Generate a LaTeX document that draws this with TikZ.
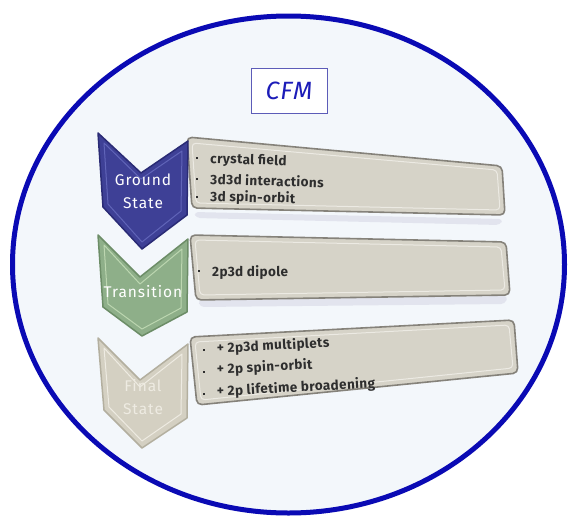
\documentclass[tikz,border=0pt]{standalone}
\usepackage{fontspec}
\setmainfont{Fira Sans}
\definecolor{ringblue}{HTML}{0A0AB4}
\definecolor{innerbg}{HTML}{F3F7FB}
\definecolor{boxface}{HTML}{D6D3C8}
\definecolor{boxedge}{HTML}{85827A}
\definecolor{boxlight}{HTML}{ECEAE3}
\definecolor{shadowc}{HTML}{E2E4EE}
\definecolor{txt}{HTML}{2E2E2E}
\definecolor{blueface}{HTML}{3E4096}
\definecolor{blueedge}{HTML}{2A2B75}
\definecolor{bluelight}{HTML}{6064B8}
\definecolor{greenface}{HTML}{8EAF89}
\definecolor{greenedge}{HTML}{6C8D67}
\definecolor{greenlight}{HTML}{BCD6B0}
\definecolor{beigeface}{HTML}{D4D0C2}
\definecolor{beigeedge}{HTML}{B3AF9F}
\definecolor{beigelight}{HTML}{EEEBE2}
\definecolor{cfmblue}{HTML}{1C1CB8}
\definecolor{cfmedge}{HTML}{5C5CB8}
\begin{document}
\begin{tikzpicture}[x=1pt,y=-1pt,
  boxshape/.style={fill=boxface, draw=boxedge, line width=1.6pt, rounded corners=5pt, line join=round},
  boxinner/.style={draw=boxlight, line width=1pt, rounded corners=4pt},
  boxshadow/.style={fill=shadowc, rounded corners=4pt},
  itemtext/.style={anchor=base west, inner sep=0pt, text=txt, font=\fontsize{13.5}{15}\selectfont\bfseries\addfontfeatures{LetterSpace=3}},
  bul/.style={fill=txt, minimum size=2.8pt, inner sep=0pt},
  chevtext/.style={text=white, inner sep=0pt, font=\fontsize{15.5}{17}\selectfont\addfontfeatures{LetterSpace=6}},
]
\useasboundingbox (0,0) rectangle (568,517);
\fill[white] (0,0) rectangle (568,517);
% outer ellipse
\draw[ringblue, fill=innerbg, line width=5pt] (288.5,264.5) ellipse [x radius=276, y radius=248.5];

% CFM title
\node (cfm) [draw=cfmedge, line width=0.9pt, fill=white, minimum width=76pt, minimum height=45pt, inner sep=0pt,
  text=cfmblue, font=\fontsize{25}{28}\selectfont\itshape\addfontfeatures{LetterSpace=4}] at (289,91) {CFM};

% ---------- boxes ----------
% box 1
\fill[boxshadow] (194,212) -- (503,219) -- (500,225) -- (196,218) -- cycle;
\draw[boxshape] (187,137) -- (502,166) -- (505,215) -- (192,208) -- cycle;
\draw[boxinner] (192,143) -- (497,170) -- (500,210) -- (196,203) -- cycle;
% box 2
\fill[boxshadow] (198,300) -- (508,296) -- (505,304) -- (200,307) -- cycle;
\draw[boxshape] (190,235) -- (506,242) -- (510,295) -- (196,300) -- cycle;
\draw[boxinner] (195,240) -- (501,247) -- (505,290) -- (200,295) -- cycle;
% box 3
\draw[boxshape] (190,337) -- (514,320) -- (518,373) -- (197,405) -- cycle;
\draw[boxinner] (195,342) -- (509,325) -- (513,368) -- (201,400) -- cycle;

% ---------- chevrons ----------
% ground state
\draw[fill=blueface, draw=blueedge, line width=1.5pt, line join=round] (98,133) -- (141,173) -- (188,141) -- (187,215) -- (142,249) -- (103,207) -- cycle;
\draw[bluelight, line width=1pt, line join=round] (104,143) -- (141,179) -- (182,151) -- (181,211) -- (142,242) -- (108,204) -- cycle;
% transition
\draw[fill=greenface, draw=greenedge, line width=1.5pt, line join=round] (98,235) -- (140,277) -- (188,239) -- (187,312) -- (142,336) -- (103,307) -- cycle;
\draw[greenlight, line width=1pt, line join=round] (104,245) -- (140,284) -- (182,249) -- (181,308) -- (142,329) -- (108,304) -- cycle;
% final state
\draw[fill=beigeface, draw=beigeedge, line width=1.5pt, line join=round] (98,338) -- (140,380) -- (188,344) -- (187,418) -- (142,448) -- (104,410) -- cycle;
\draw[beigelight, line width=1pt, line join=round] (104,348) -- (140,387) -- (182,354) -- (181,414) -- (142,441) -- (109,407) -- cycle;

% chevron labels
\node (gs1) [chevtext] at (143,180) {Ground};
\node (gs2) [chevtext] at (143,203) {State};
\node (tr) [chevtext] at (143,292) {Transition};
\node (fs1) [chevtext, text=beigelight] at (143,386) {Final};
\node (fs2) [chevtext, text=beigelight] at (143,409) {State};

% box 1 items
\node (b1a) [bul] at (197,158) {};
\node (b1b) [bul] at (197,179) {};
\node (b1c) [bul] at (197,197) {};
\node (t1a) [itemtext, rotate=-2] at (210,163) {crystal field};
\node (t1b) [itemtext, rotate=-1.8] at (210,184) {3d3d interactions};
\node (t1c) [itemtext, rotate=-1.5] at (210,201) {3d spin-orbit};
% box 2 items
\node (b2a) [bul] at (199,271) {};
\node (t2a) [itemtext] at (212,276) {2p3d dipole};
% box 3 items
\node (b3a) [bul] at (204,350) {};
\node (b3b) [bul] at (204,372) {};
\node (b3c) [bul] at (204,394) {};
\node (t3a) [itemtext, rotate=3] at (217,353) {+ 2p3d multiplets};
\node (t3b) [itemtext, rotate=3] at (217,374) {+ 2p spin-orbit};
\node (t3c) [itemtext, rotate=3] at (217,396) {+ 2p lifetime broadening};
\end{tikzpicture}
\end{document}
